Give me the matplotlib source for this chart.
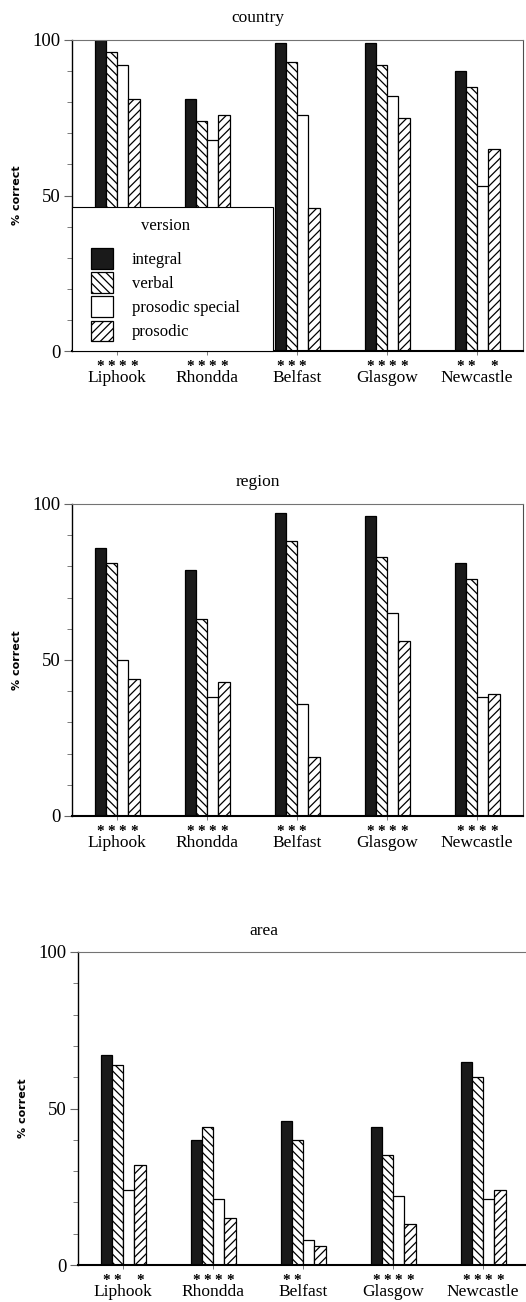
import matplotlib
matplotlib.use("Agg")
import matplotlib.pyplot as plt
import matplotlib.transforms as mtransforms
from matplotlib.patches import Rectangle
import numpy as np

sites = ["Liphook", "Rhondda", "Belfast", "Glasgow", "Newcastle"]
versions = ["integral", "verbal", "prosodic special", "prosodic"]
panels = ["country", "region", "area"]

# % correct per site, one list per version
country = {
    "integral": [100, 81, 99, 99, 90],
    "verbal": [96, 74, 93, 92, 85],
    "prosodic special": [92, 68, 76, 82, 53],
    "prosodic": [81, 76, 46, 75, 65],
}
region = {
    "integral": [86, 79, 97, 96, 81],
    "verbal": [81, 63, 88, 83, 76],
    "prosodic special": [50, 38, 36, 65, 38],
    "prosodic": [44, 43, 19, 56, 39],
}
area = {
    "integral": [67, 40, 46, 44, 65],
    "verbal": [64, 44, 40, 35, 60],
    "prosodic special": [24, 21, 8, 22, 21],
    "prosodic": [32, 15, 6, 13, 24],
}

# significance stars under each bar (1 = star)
stars_country = [[1, 1, 1, 1], [1, 1, 1, 1], [1, 1, 1, 0], [1, 1, 1, 1], [1, 1, 0, 1]]
stars_region = [[1, 1, 1, 1], [1, 1, 1, 1], [1, 1, 1, 0], [1, 1, 1, 1], [1, 1, 1, 1]]
stars_area = [[1, 1, 0, 1], [1, 1, 1, 1], [1, 1, 0, 0], [1, 1, 1, 1], [1, 1, 1, 1]]

styles = {
    "integral": dict(facecolor="#1a1a1a", hatch=None),
    "verbal": dict(facecolor="white", hatch="\\\\\\\\"),
    "prosodic special": dict(facecolor="white", hatch=None),
    "prosodic": dict(facecolor="white", hatch="////"),
}

plt.rcParams["font.family"] = ["Liberation Serif", "DejaVu Serif"]
plt.rcParams["hatch.linewidth"] = 0.9

fig = plt.figure(figsize=(5.26, 13.02), dpi=100)

W, H = 526.0, 1302.0
# axes boxes in pixels: left, top, right, bottom; title x, y
boxes = [
    (72, 40, 523, 351, 258, 18),
    (72, 504, 523, 816, 258, 482),
    (78, 952, 530, 1265, 264, 931),
]
datas = [country, region, area]
stars = [stars_country, stars_region, stars_area]

width = 0.125
x = np.arange(len(sites))

for i, (name, data, st, box) in enumerate(zip(panels, datas, stars, boxes)):
    l, t, r, b, tx, ty = box
    ax = fig.add_axes([l / W, 1 - b / H, (r - l) / W, (b - t) / H])
    trans = mtransforms.offset_copy(ax.get_xaxis_transform(), fig=fig,
                                    y=-11, units="points")
    for j, v in enumerate(versions):
        offs = (j - 1.5) * width
        ax.bar(x + offs, data[v], width, edgecolor="black", linewidth=0.9,
               zorder=2, label=v, **styles[v])
        for k in range(len(sites)):
            if st[k][j]:
                ax.text(x[k] + offs, 0, "*", transform=trans, ha="center",
                        va="center", fontsize=11, fontweight="bold")
    ax.set_xlim(-0.5, 4.5 + (r - l - 450) / 90)
    ax.set_ylim(0, 100)
    ax.set_yticks([0, 50, 100])
    ax.set_yticks(np.arange(0, 101, 10), minor=True)
    ax.tick_params(axis="y", which="major", length=6, width=0.8, color="0.4",
                   labelsize=13.5, pad=2)
    ax.tick_params(axis="y", which="minor", length=3.5, width=0.6, color="0.4")
    ax.set_xticks(x)
    ax.set_xticklabels(sites)
    ax.tick_params(axis="x", length=3, width=0.6, color="0.4", labelsize=12.5,
                   pad=11)
    fig.text(tx / W, 1 - ty / H, name, fontsize=12.5, ha="center",
             va="center")
    ax.set_ylabel("% correct", family=["DejaVu Sans"], fontweight="bold",
                  fontsize=8, labelpad=8)
    ax.spines["top"].set_color("0.45")
    ax.spines["top"].set_linewidth(0.8)
    ax.spines["right"].set_color("0.3")
    ax.spines["right"].set_linewidth(0.8)
    ax.spines["left"].set_linewidth(1.0)
    ax.spines["bottom"].set_linewidth(1.5)
    if i == 0:
        aw, ah = r - l, b - t
        frame = Rectangle((0, 0), 201 / aw, 144 / ah, transform=ax.transAxes,
                          facecolor="white", edgecolor="black",
                          linewidth=0.8, zorder=4, clip_on=False)
        ax.add_patch(frame)
        leg = ax.legend(title="version", loc="upper left",
                        bbox_to_anchor=(14 / aw, (b - 213) / ah),
                        borderaxespad=0, borderpad=0.3, frameon=False,
                        fontsize=12, title_fontsize=12,
                        handlelength=1.3, handleheight=1.55,
                        labelspacing=0.2, handletextpad=1.15,
                        alignment="center")
        leg.set_zorder(5)
        leg._legend_box.sep = 10

fig.savefig("out.png", dpi=100)
